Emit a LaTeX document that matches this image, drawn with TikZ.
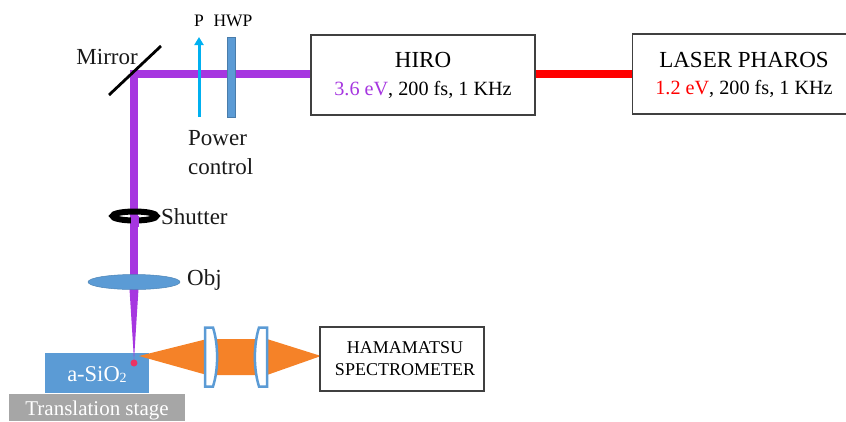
\documentclass[tikz,border=0pt]{standalone}
\usepackage{fontspec}
\setmainfont{Liberation Serif}
\usepackage{xcolor}
\usetikzlibrary{shapes.geometric, arrows.meta, positioning, calc}
\definecolor{beampurple}{HTML}{A636E0}
\definecolor{laserred}{HTML}{FF0000}
\definecolor{optblue}{HTML}{5B9BD5}
\definecolor{pumporange}{HTML}{F58228}
\definecolor{powercyan}{HTML}{00B0F0}
\definecolor{stagegray}{HTML}{A6A6A6}
\definecolor{spotpink}{HTML}{EA3465}

\begin{document}
\begin{tikzpicture}[
    x=1pt, y=-1pt,
    box/.style={rectangle, draw=black!75, line width=1.2pt, fill=white, inner sep=0pt, align=center},
    opttext/.style={inner sep=0pt, font=\fontsize{23}{29}\selectfont, align=left, text=black!90},
    smalltext/.style={inner sep=0pt, font=\fontsize{17.5}{21}\selectfont},
    titletext/.style={inner sep=0pt, font=\fontsize{23}{27}\selectfont},
    datatext/.style={inner sep=0pt, font=\fontsize{20.2}{24}\selectfont},
    beam/.style={draw=beampurple, line width=8pt},
    lens/.style={draw=optblue, line width=2.5pt, fill=white},
    solidblock/.style={rectangle, inner sep=0pt, text=white},
]
    \useasboundingbox (0,0) rectangle (846,421);

    \node[box, minimum width=224pt, minimum height=80pt] (hiro) at (423,75) {};
    \node[box, minimum width=224pt, minimum height=80pt, anchor=west] (pharos) at (632,74) {};
    \node[titletext] (hirot) at (423,60) {HIRO};
    \node[datatext] (hirod) at (423,90) {\textcolor{beampurple}{3.6 eV}, 200 fs, 1 KHz};
    \node[titletext] (pharost) at (744,60) {LASER PHAROS};
    \node[datatext] (pharosd) at (744,89) {\textcolor{laserred}{1.2 eV}, 200 fs, 1 KHz};

    \coordinate (corner) at (134,74);
    \coordinate (lensin) at (134,289);
    \coordinate (focus) at (134,360);

    \draw[draw=laserred, line width=8pt] (hiro.east |- corner) -- (pharos.west |- corner);
    \draw[beam] (hiro.west |- corner) -- (corner) -- (lensin);

    % sample and stage
    \node[solidblock, fill=stagegray, minimum width=176pt, minimum height=27pt] (stage) at (97,407.5) {};
    \node[solidblock, font=\fontsize{21}{25}\selectfont] (staget) at (97,410) {Translation stage};
    \node[solidblock, fill=optblue, minimum width=104pt, minimum height=40pt] (sample) at (97,373) {};
    \node[solidblock, font=\fontsize{22.5}{26}\selectfont] (samplet) at (97,375) {a-SiO\raisebox{-1pt}{\fontsize{14}{16}\selectfont 2}};

    % focused beam
    \fill[beampurple] ($(lensin)+(-4.5,0)$) -- ($(lensin)+(4.5,0)$) -- (focus) -- cycle;
    \node[circle, fill=spotpink, minimum size=7pt, inner sep=0pt] (spot) at (134,363) {};

    % collected light
    \fill[pumporange] (139,356) -- (207,339) -- (267,339) -- (321,356) -- (267,375) -- (207,375) -- cycle;
    \draw[lens] (205,327.5) -- (213,327.5) .. controls (218.5,345) and (218.5,369) .. (213,386.5) -- (205,386.5) -- cycle;
    \draw[lens] (267,327.5) -- (259,327.5) .. controls (253.5,345) and (253.5,369) .. (259,386.5) -- (267,386.5) -- cycle;
    \node[box, minimum width=164pt, minimum height=64pt] (spec) at (402,359) {};
    \node[inner sep=0pt, align=center, font=\fontsize{18}{22}\selectfont] (spect) at (405,359) {HAMAMATSU\\SPECTROMETER};

    % mirror, power control
    \coordinate (mirrora) at (109,95);
    \coordinate (mirrorb) at (161,46);
    \draw[line width=2.8pt] (mirrora) -- (mirrorb);
    \node[opttext, anchor=east] (mirror) at (138,57) {Mirror};

    \coordinate (pa) at (199,117);
    \coordinate (pb) at (199,37);
    \draw[draw=powercyan, line width=3pt, -{Triangle[length=8pt,width=9pt]}] (pa) -- (pb);
    \node[smalltext] (ptext) at (199,21) {P};
    \node[rectangle, draw=optblue!80!black, line width=1pt, fill=optblue, minimum width=8pt, minimum height=80pt, inner sep=0pt] (hwp) at (231.5,77) {};
    \node[smalltext] (hwptext) at (233,21) {HWP};
    \node[opttext, anchor=north west] (power) at (188,130) {Power\\control};

    % shutter, objective
    \node[ellipse, draw=black, line width=6pt, minimum width=44pt, minimum height=9pt, inner sep=0pt] (shutter) at (134.5,216) {};
    \draw[beam] (shutter.center) -- ($(shutter.south)+(0,3)$);
    \node[opttext, anchor=west] (shuttertext) at (161,217) {Shutter};
    \node[ellipse, draw=optblue!85!black, line width=.5pt, fill=optblue, minimum width=92pt, minimum height=15pt, inner sep=0pt] (obj) at (134,282) {};
    \node[opttext, anchor=west] (objtext) at (187,280) {Obj};
\end{tikzpicture}
\end{document}
